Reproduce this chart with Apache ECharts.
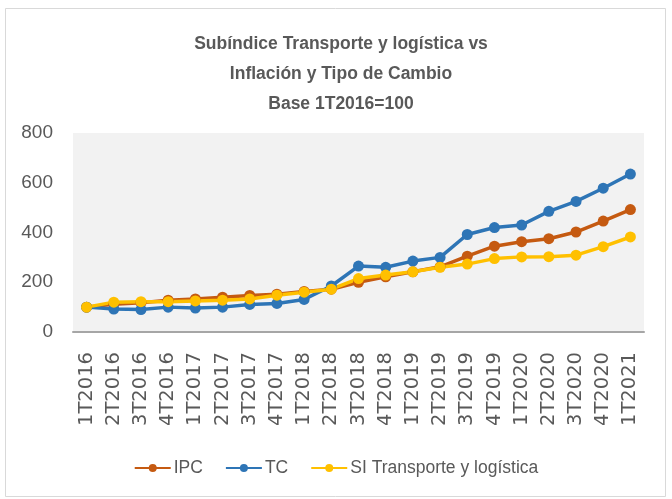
<!DOCTYPE html>
<html>
<head>
<meta charset="utf-8">
<script src="https://cdn.jsdelivr.net/npm/echarts@6/dist/echarts.min.js"></script>
<style>html,body{margin:0;padding:0;background:#fff}#c{width:672px;height:499px}</style>
</head>
<body>
<div id="c"></div>
<script>
const categories = ['1T2016','2T2016','3T2016','4T2016','1T2017','2T2017','3T2017','4T2017','1T2018','2T2018','3T2018','4T2018','1T2019','2T2019','3T2019','4T2019','1T2020','2T2020','3T2020','4T2020','1T2021'];
const ipc = [100,112,118,128,133,140,147,152,163,172,200,222,242,262,305,345,363,375,402,446,492];
const tc = [100,92,90,100,96,100,111,115,131,185,265,260,285,300,392,420,430,485,525,578,635];
const siTransporte = [100,120,122,122,125,128,133,148,160,172,215,229,242,260,273,295,302,303,309,343,382];
const yTicks = [0,200,400,600,800];

const chart = echarts.init(document.getElementById('c'), null, {renderer:'canvas'});
const txt = '#595959';
function mk(name, data, color){
  return {name, type:'line', data, color, symbol:'circle', symbolSize:11,
    lineStyle:{width:3.5, color}, itemStyle:{color}, animation:false};
}
chart.setOption({
  animation:false,
  backgroundColor:'#fff',
  graphic:[{type:'rect', shape:{x:5.5,y:8.5,width:660,height:488}, style:{fill:'none', stroke:'#d9d9d9', lineWidth:1}, silent:true}],
  title:{text:'Subíndice Transporte y logística vs\nInflación y Tipo de Cambio\nBase 1T2016=100', left:336, textAlign:'center', top:24,
    textStyle:{fontFamily:'Liberation Sans', fontWeight:'bold', fontSize:17.5, color:txt, lineHeight:30}},
  legend:{top:454, left:'center', itemWidth:36, itemHeight:10, itemGap:22,
    data:['IPC','TC','SI Transporte y logística'],
    textStyle:{fontFamily:'Liberation Sans', fontSize:17.5, color:txt, padding:[0,0,0,-2]}},
  grid:{left:73, right:28, top:133, bottom:167, show:true, backgroundColor:'#f2f2f2', borderWidth:0},
  xAxis:{type:'category', data:categories, boundaryGap:true,
    axisLine:{lineStyle:{color:'#a6a6a6', width:2}}, axisTick:{show:false},
    axisLabel:{rotate:90, interval:0, margin:20, fontFamily:'DejaVu Sans', fontSize:19.5, color:txt}},
  yAxis:{type:'value', min:yTicks[0], max:yTicks[yTicks.length-1], interval:200,
    axisLine:{show:false}, axisTick:{show:false}, splitLine:{show:false},
    axisLabel:{margin:20, fontFamily:'Liberation Sans', fontSize:19, color:txt}},
  series:[mk('IPC', ipc, '#C55A11'), mk('TC', tc, '#2E75B6'), mk('SI Transporte y logística', siTransporte, '#FFC000')]
});
</script>
</body>
</html>
